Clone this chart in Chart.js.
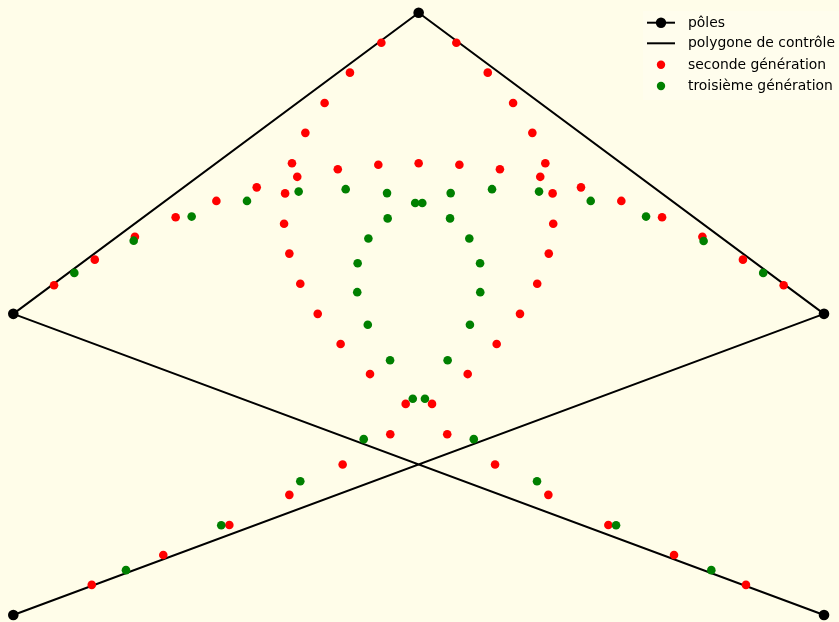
<!DOCTYPE html>
<html>
<head>
<meta charset="utf-8">
<script src="https://cdn.jsdelivr.net/npm/chart.js@4"></script>
<style>
html, body { margin: 0; padding: 0; background: #fffde9; }
canvas { display: block; }
</style>
</head>
<body>
<canvas id="c" width="839" height="622"></canvas>
<script>
// Control polygon vertices (poles), in order
const poles = [[-2, 0], [2, 1], [0, 2], [-2, 1], [2, 0]];

// Second generation points
const secondGen = [
  [-1.613, 0.100], [-1.260, 0.199], [-0.934, 0.299], [-0.638, 0.399], [-0.375, 0.500],
  [-0.140, 0.600], [0.066, 0.701], [0.242, 0.800], [0.385, 0.900], [0.500, 1.000],
  [0.585, 1.100], [0.642, 1.200], [0.664, 1.299], [0.661, 1.400], [0.600, 1.455],
  [0.625, 1.500], [0.561, 1.601], [0.466, 1.700], [0.341, 1.801], [0.186, 1.900],
  [-0.184, 1.900], [-0.339, 1.801], [-0.464, 1.700], [-0.559, 1.601], [-0.625, 1.500],
  [-0.599, 1.455], [-0.659, 1.400], [-0.664, 1.299], [-0.638, 1.200], [-0.584, 1.100],
  [-0.498, 1.000], [-0.385, 0.900], [-0.240, 0.800], [-0.064, 0.701], [0.141, 0.600],
  [0.377, 0.500], [0.640, 0.399], [0.936, 0.299], [1.260, 0.199], [1.615, 0.100],
  [-0.399, 1.480], [-0.199, 1.495], [0.000, 1.500], [0.201, 1.495], [0.401, 1.480],
  [-1.799, 1.095], [-1.598, 1.180], [-1.400, 1.256], [-1.199, 1.321], [-0.998, 1.375], [-0.799, 1.420],
  [0.801, 1.420], [1.000, 1.375], [1.201, 1.321], [1.400, 1.256], [1.600, 1.180], [1.801, 1.095]
];

// Third generation points
const thirdGen = [
  [-1.444, 0.149], [-0.974, 0.298], [-0.584, 0.444], [-0.271, 0.584], [-0.029, 0.718],
  [0.143, 0.846], [0.253, 0.964], [0.304, 1.072], [0.303, 1.168], [0.250, 1.250],
  [0.155, 1.317], [0.018, 1.368], [0.158, 1.401], [0.362, 1.414], [0.594, 1.406],
  [-0.592, 1.406], [-0.360, 1.414], [-0.156, 1.401], [-0.017, 1.368], [-0.153, 1.317],
  [-0.248, 1.250], [-0.301, 1.168], [-0.303, 1.072], [-0.251, 0.964], [-0.141, 0.846],
  [0.031, 0.718], [0.272, 0.584], [0.584, 0.444], [0.974, 0.298], [1.444, 0.149],
  [-1.699, 1.136], [-1.406, 1.243], [-1.120, 1.323], [-0.847, 1.375],
  [0.849, 1.375], [1.122, 1.323], [1.406, 1.242], [1.700, 1.136]
];

const legendLabels = ['pôles', 'polygone de contrôle', 'seconde génération', 'troisième génération'];

const toXY = arr => arr.map(p => ({ x: p[0], y: p[1] }));

const bgPlugin = {
  id: 'bg',
  beforeDraw(chart) {
    const ctx = chart.ctx;
    ctx.save();
    ctx.fillStyle = '#fffde9';
    ctx.fillRect(0, 0, chart.width, chart.height);
    ctx.restore();
  }
};

const legendPlugin = {
  id: 'customLegend',
  afterDraw(chart) {
    const ctx = chart.ctx;
    ctx.save();
    ctx.fillStyle = 'rgba(255,255,255,0.2)';
    ctx.fillRect(643, 11, 196, 89);
    const x0 = 647, x1 = 675, xm = 661, tx = 688;
    const rows = [22.7, 43.3, 64.7, 86];
    // poles: line with marker
    ctx.strokeStyle = '#000';
    ctx.lineWidth = 2;
    ctx.beginPath(); ctx.moveTo(x0, rows[0]); ctx.lineTo(x1, rows[0]); ctx.stroke();
    ctx.fillStyle = '#000';
    ctx.beginPath(); ctx.arc(xm, rows[0], 5.2, 0, Math.PI * 2); ctx.fill();
    // polygon line
    ctx.beginPath(); ctx.moveTo(x0, rows[1]); ctx.lineTo(x1, rows[1]); ctx.stroke();
    // red dot
    ctx.fillStyle = '#ff0000';
    ctx.beginPath(); ctx.arc(xm, rows[2], 4.2, 0, Math.PI * 2); ctx.fill();
    // green dot
    ctx.fillStyle = '#008000';
    ctx.beginPath(); ctx.arc(xm, rows[3], 4.2, 0, Math.PI * 2); ctx.fill();
    // text
    ctx.fillStyle = '#000';
    ctx.font = '13.9px "DejaVu Sans"';
    ctx.textBaseline = 'middle';
    ctx.textAlign = 'left';
    legendLabels.forEach((t, i) => ctx.fillText(t, tx, rows[i] + 0.5));
    ctx.restore();
  }
};

new Chart(document.getElementById('c'), {
  type: 'scatter',
  data: {
    datasets: [
      {
        label: legendLabels[1],
        data: toXY(poles),
        showLine: true,
        borderColor: '#000',
        borderWidth: 2,
        borderJoinStyle: 'round',
        pointRadius: 0,
        pointHoverRadius: 0,
        clip: false,
        order: 4
      },
      {
        label: legendLabels[0],
        data: toXY(poles),
        showLine: false,
        backgroundColor: '#000',
        borderWidth: 0,
        pointRadius: 5.3,
        clip: false,
        order: 3
      },
      {
        label: legendLabels[2],
        data: toXY(secondGen),
        showLine: false,
        backgroundColor: '#ff0000',
        borderWidth: 0,
        pointRadius: 4.3,
        clip: false,
        order: 2
      },
      {
        label: legendLabels[3],
        data: toXY(thirdGen),
        showLine: false,
        backgroundColor: '#008000',
        borderWidth: 0,
        pointRadius: 4.3,
        clip: false,
        order: 1
      }
    ]
  },
  options: {
    responsive: false,
    animation: false,
    layout: { padding: { left: 13.3, right: 15, top: 12.7, bottom: 7 } },
    plugins: {
      legend: { display: false },
      tooltip: { enabled: false }
    },
    scales: {
      x: { type: 'linear', min: -2, max: 2, display: false },
      y: { type: 'linear', min: 0, max: 2, display: false }
    }
  },
  plugins: [bgPlugin, legendPlugin]
});
</script>
</body>
</html>
